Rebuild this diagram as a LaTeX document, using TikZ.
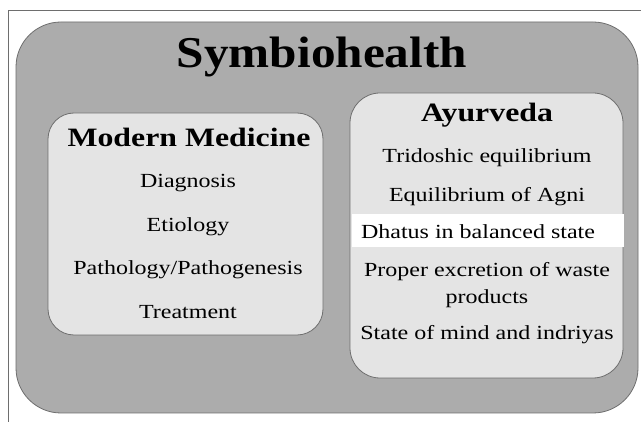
\documentclass[tikz,border=0pt]{standalone}
\usepackage{fontspec}
\setmainfont[FakeStretch=1.2]{Liberation Serif}
\newfontfamily\titlefont[FakeStretch=1.12]{Liberation Serif}
\definecolor{outergray}{HTML}{ACACAC}
\definecolor{innergray}{HTML}{E4E4E4}
\definecolor{edgegray}{HTML}{6E6E6E}
\begin{document}
\begin{tikzpicture}[x=1pt,y=-1pt,
  panel/.style={draw=edgegray, line width=0.8pt, inner sep=0pt},
  title/.style={font=\titlefont\bfseries\fontsize{44}{48}\selectfont},
  head/.style={font=\bfseries\fontsize{26.5}{30}\selectfont},
  item/.style={font=\fontsize{20}{24}\selectfont}]
\useasboundingbox (0,0) rectangle (641,422);
\fill[white] (0,0) rectangle (641,422);
\coordinate (fa) at (8,422);
\coordinate (fb) at (8,10);
\coordinate (fc) at (641,10);
\draw[edgegray, line width=0.8pt] (fa) -- (fb) -- (fc);
\node[panel, fill=outergray, rounded corners=45pt, minimum width=622pt, minimum height=391pt] (outer) at (327,217.5) {};
\node[panel, fill=innergray, rounded corners=26pt, minimum width=275pt, minimum height=222pt] (mm) at (185.5,224) {};
\node[panel, fill=innergray, rounded corners=30pt, minimum width=273pt, minimum height=285pt] (ay) at (486.5,235.5) {};
\node[fill=white, inner sep=0pt, minimum width=272pt, minimum height=33pt] (band) at (488,230.5) {};
\node[title] (t) at (322,57) {Symbiohealth};
\node[head] (mmh) at (189,137) {Modern Medicine};
\node[item] (m1) at (188,183) {Diagnosis};
\node[item] (m2) at (188,227) {Etiology};
\node[item] (m3) at (188,270) {Pathology/Pathogenesis};
\node[item] (m4) at (188,312) {Treatment};
\node[head] (ayh) at (487,115) {Ayurveda};
\node[item] (a1) at (487,158) {Tridoshic equilibrium};
\node[item] (a2) at (487,197) {Equilibrium of Agni};
\node[item] (a3) at (478,232) {Dhatus in balanced state};
\node[item] (a4) at (487,272) {Proper excretion of waste};
\node[item] (a5) at (487,299) {products};
\node[item] (a6) at (487,335) {State of mind and indriyas};
\end{tikzpicture}
\end{document}
